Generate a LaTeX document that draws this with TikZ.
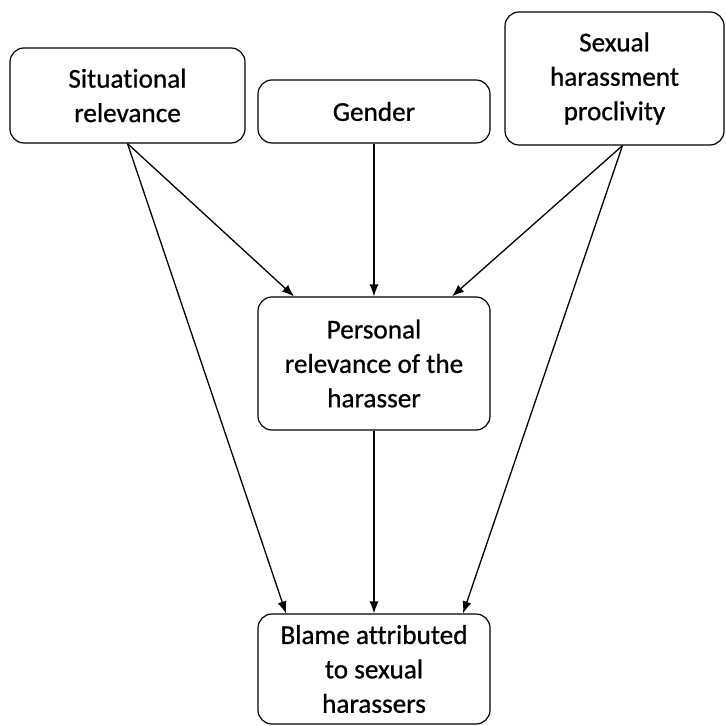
\documentclass[tikz,border=0pt]{standalone}
\usepackage{fontspec}
\setmainfont{Carlito}[Ligatures=NoCommon, FakeBold=0.8]
\usetikzlibrary{arrows.meta,calc}
\begin{document}
\begin{tikzpicture}[x=0.5pt, y=-0.5pt, >={Latex[length=6pt,width=4.6pt]},
  box/.style={draw, rounded corners=7pt, line width=0.6pt, align=center, inner sep=0pt,
    font=\fontsize{13.6}{17.2}\selectfont}]
\useasboundingbox (0,0) rectangle (725,726);
\node[box, minimum width=117.5pt, minimum height=47.5pt] (sit) at (127.5,95.5) {Situational\\relevance};
\node[box, minimum width=116pt, minimum height=31.5pt] (gen) at (374,111.5) {Gender};
\node[box, minimum width=109.5pt, minimum height=66.5pt] (sex) at (614.5,78.5) {Sexual\\harassment\\proclivity};
\node[box, minimum width=116pt, minimum height=66.5pt] (per) at (374,363.5) {Personal\\relevance of the\\harasser};
\node[box, minimum width=116pt, minimum height=55pt] (bla) at (374,669) {Blame attributed\\to sexual\\harassers};
\draw[->, line width=0.65pt](sit.south)--($(per.north)+(-80,0)$);
\draw[->, line width=0.65pt](sit.south)--($(bla.north)+(-88,0)$);
\draw[->, line width=0.65pt](gen.south)--(per.north);
\draw[->, line width=0.65pt]($(sex.south)+(8,0)$)--($(per.north)+(78,0)$);
\draw[->, line width=0.65pt]($(sex.south)+(8,0)$)--($(bla.north)+(89,0)$);
\draw[->, line width=0.65pt](per.south)--(bla.north);
\end{tikzpicture}
\end{document}
